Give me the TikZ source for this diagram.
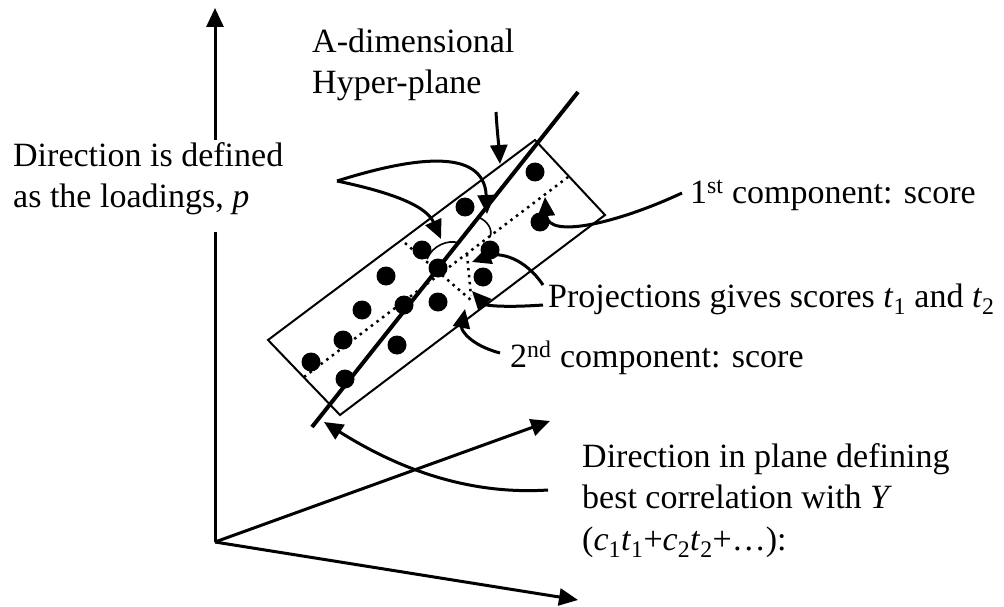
\documentclass[tikz,border=0pt]{standalone}
\usepackage{fontspec}
\setmainfont{Liberation Serif}
\usetikzlibrary{arrows.meta}
\begin{document}
\begin{tikzpicture}[x=1pt,y=-1pt,
  txt/.style={anchor=base west, inner sep=0pt, font=\fontsize{34}{40}\selectfont},
  ax/.style={line width=3pt, -{Triangle[length=19pt,width=17pt]}},
  callout/.style={line width=3pt, -{Triangle[length=19pt,width=17pt]}},
  dot/.style={circle, fill=black, minimum size=19pt, inner sep=0pt},
  dotline/.style={line width=2.5pt, dash pattern=on 2.5pt off 4.5pt},
  anglearc/.style={line width=1.6pt},
  plane/.style={line width=2pt, line join=miter},
  regline/.style={line width=4pt}
]
\useasboundingbox (0,0) rectangle (1004,607);

% axes
\coordinate (O) at (215,542);
\coordinate (Yt) at (215,8);
\coordinate (Dt) at (550,421);
\coordinate (Xt) at (578,600);
\draw[ax] (O) -- (Yt);
\draw[ax] (O) -- (Dt);
\draw[ax] (O) -- (Xt);

% plane
\coordinate (P1) at (535,140);
\coordinate (P2) at (605,215);
\coordinate (P3) at (340,415);
\coordinate (P4) at (268,340);
\draw[plane] (P1) -- (P2) -- (P3) -- (P4) -- cycle;

% component lines
\coordinate (C1a) at (304,377);
\coordinate (C1b) at (568,177);
\draw[dotline] (C1a) -- (C1b);
\coordinate (C2a) at (405,243);
\coordinate (C2b) at (472,301);
\draw[dotline] (C2a) -- (C2b);
\coordinate (C3a) at (467,254);
\coordinate (C3b) at (471,296);
\draw[dotline] (C3a) -- (C3b);

% regression direction
\coordinate (Ra) at (578,92);
\coordinate (Rb) at (312,427);
\draw[regline] (Ra) -- (Rb);

% points
\foreach \n/\px/\py in {1/535/172, 2/540/222, 3/465/207, 4/422/250, 5/438/268,
  6/490/250, 7/483/277, 8/438/302, 9/404/305, 10/386/276, 11/362/310,
  12/343/340, 13/311/362, 14/345/379, 15/397/345}
  \node[dot] (d\n) at (\px,\py) {};

% angle arcs
\coordinate (A1a) at (427,259);
\coordinate (A1b) at (459,243);
\draw[anglearc] (A1a) .. controls (432,246) and (448,239) .. (A1b);
\coordinate (A2a) at (478,217);
\coordinate (A2b) at (490,237);
\draw[anglearc] (A2a) .. controls (488,221) and (493,230) .. (A2b);

% white text box over the vertical axis
\fill[white] (5,140) rectangle (296,232);

% texts
\node[txt] (hp1) at (312,53) {A-dimensional};
\node[txt] (hp2) at (312,94) {Hyper-plane};
\node[txt] (ld1) at (13,166) {Direction is defined};
\node[txt] (ld2) at (13,207) {as the loadings, \textit{p}};
\node[txt] (c1) at (690,203) {1\textsuperscript{st} component: score};
\node[txt] (pr) at (548,307) {Projections gives scores \textit{t}\textsubscript{1} and \textit{t}\textsubscript{2}};
\node[txt] (c2) at (510,367) {2\textsuperscript{nd} component: score};
\node[txt] (dp1) at (582,467) {Direction in plane defining};
\node[txt] (dp2) at (582,508) {best correlation with \textit{Y}};
\node[txt] (dp3) at (582,550) {(\textit{c}\textsubscript{1}\textit{t}\textsubscript{1}+\textit{c}\textsubscript{2}\textit{t}\textsubscript{2}+…):};

% callout arrows
\coordinate (hpS) at (496,112);
\coordinate (hpT) at (500,164);
\draw[callout] (hpS) .. controls (497,130) and (499,148) .. (hpT);

\coordinate (ldS) at (337,181);
\coordinate (ldT1) at (487,214);
\coordinate (ldT2) at (441,239);
\draw[callout] (ldS) .. controls (410,158) and (484,146) .. (ldT1);
\draw[callout] (ldS) .. controls (380,190) and (425,203) .. (ldT2);

\coordinate (c1S) at (682,193);
\coordinate (c1T) at (545,197);
\draw[callout] (c1S) .. controls (620,222) and (548,240) .. (c1T);

\coordinate (prS1) at (543,285);
\coordinate (prT1) at (472,262);
\draw[callout] (prS1) .. controls (525,258) and (500,252) .. (prT1);
\coordinate (prS2) at (543,305);
\coordinate (prT2) at (472,291);
\draw[callout] (prS2) .. controls (500,308) and (485,305) .. (prT2);

\coordinate (c2S) at (500,353);
\coordinate (c2T) at (465,309);
\draw[callout] (c2S) .. controls (470,345) and (461,330) .. (c2T);

\coordinate (dpS) at (548,490);
\coordinate (dpT) at (324,422);
\draw[callout] (dpS) .. controls (470,495) and (400,470) .. (dpT);
\end{tikzpicture}
\end{document}
